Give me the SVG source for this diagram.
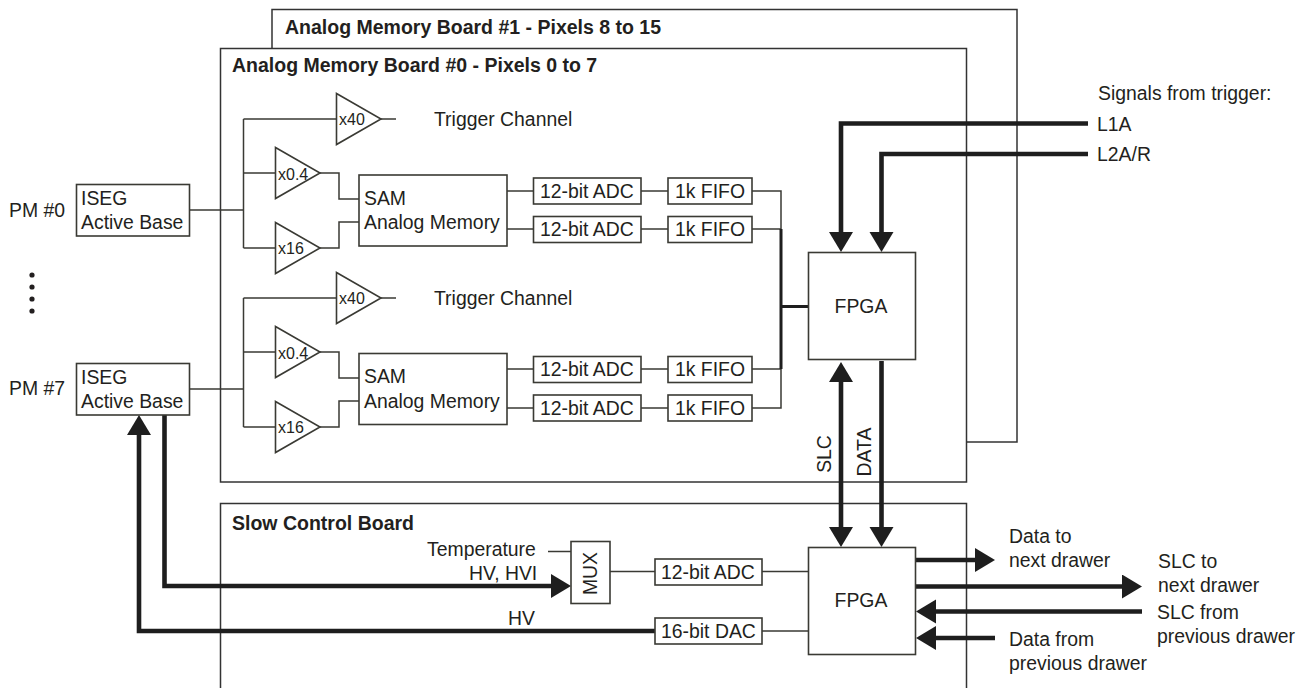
<svg xmlns="http://www.w3.org/2000/svg" width="1307" height="688" viewBox="0 0 1307 688">
<style>
text{font-family:"Liberation Sans",Arial,sans-serif;font-size:19.400px;fill:#231f20}
.b{font-weight:bold;font-size:19.500px}
.s{font-size:16px}
.box{fill:#fff;stroke:#3a3a34;stroke-width:1.600}
.frame{fill:none;stroke:#333;stroke-width:1.500}
.w{fill:none;stroke:#3a3a34;stroke-width:1.500}
.w3{fill:none;stroke:#1e1e1e;stroke-width:3}
.t{fill:none;stroke:#1e1e1e;stroke-width:4.600}
.a{marker-end:url(#h)}
.m{text-anchor:middle}
</style>
<defs>
<marker id="h" markerUnits="userSpaceOnUse" markerWidth="22" markerHeight="26" refX="0" refY="12" orient="auto-start-reverse">
<path d="M0 0L20 12L0 24Z" fill="#1e1e1e"/>
</marker>
<polygon id="amp" points="0,-25.500 44.500,0 0,25.500" class="box"/>
</defs>
<g id="board1"><path class="frame" d="M272 48V9.500H1017V442H967"/><text class="b" x="285" y="34">Analog Memory Board #1 - Pixels 8 to 15</text></g>
<g id="board0"><rect class="frame" x="220.500" y="48.500" width="746" height="433.500"/><text class="b" x="232" y="72">Analog Memory Board #0 - Pixels 0 to 7</text></g>
<g id="slowboard"><path class="frame" d="M220.500 688V503.500H966.500V688"/><text class="b" x="232" y="530">Slow Control Board</text></g>
<g id="connectors">
<path class="w" d="M189 210H243.500M243.500 119V248M243.500 119H337M396 119H381M243.500 173H276M243.500 248H276M320 173H339V199H359M320 248H339V222H359"/>
<path class="w" d="M189 389H243.500M243.500 298V427M243.500 298H337M396 298H381M243.500 352H276M243.500 427H276M320 352H339V378H359M320 427H339V401H359"/>
<path class="w" d="M507 191H533M641 191H668M752 191H781V229M507 229H533M641 229H668M752 229H781M507 369H533M641 369H668M752 369H781M507 408H533M641 408H668M752 408H781V369"/>
<path class="w3" d="M781 229V369M781 306.500H808"/>
<path class="w" d="M548 551.500H571M610 571.500H655M762 571.500H808M762 631H808"/>
<path class="t a" d="M1088 123.500H841V232"/>
<path class="t a" d="M1088 154H881.500V232"/>
<path class="t a" style="marker-start:url(#h)" d="M841 382V527"/>
<path class="t a" d="M881.500 361V527"/>
<path class="t a" d="M915 560H975"/>
<path class="t a" d="M915 586.500H1122"/>
<path class="t a" d="M1142 611.500H936"/>
<path class="t a" d="M995 638H936"/>
<path class="t a" d="M164.500 415V586H551"/>
<path class="t a" d="M655 631H139V435"/>
</g>
<g id="pm0"><text x="9" y="217">PM #0</text></g>
<g id="pm7"><text x="9" y="395">PM #7</text></g>
<g id="dots" fill="#231f20"><circle cx="32" cy="275" r="2.600"/><circle cx="32" cy="287" r="2.600"/><circle cx="32" cy="299" r="2.600"/><circle cx="32" cy="311" r="2.600"/></g>
<g id="iseg0"><rect class="box" x="76.500" y="184.500" width="113" height="51.500"/><text x="81" y="205">ISEG</text><text x="81" y="229">Active Base</text></g>
<g id="iseg7"><rect class="box" x="76.500" y="363.500" width="113" height="51.500"/><text x="81" y="384">ISEG</text><text x="81" y="408">Active Base</text></g>
<g id="amp-t0"><use href="#amp" x="336.500" y="119"/><text class="s" x="339" y="125">x40</text></g>
<g id="amp-a0"><use href="#amp" x="275.500" y="173"/><text class="s" x="278" y="180">x0.4</text></g>
<g id="amp-b0"><use href="#amp" x="275.500" y="248"/><text class="s" x="278" y="254">x16</text></g>
<g id="amp-t7"><use href="#amp" x="336.500" y="298"/><text class="s" x="339" y="304">x40</text></g>
<g id="amp-a7"><use href="#amp" x="275.500" y="352"/><text class="s" x="278" y="359">x0.4</text></g>
<g id="amp-b7"><use href="#amp" x="275.500" y="427"/><text class="s" x="278" y="433">x16</text></g>
<g id="trig0"><text x="434" y="126">Trigger Channel</text></g>
<g id="trig7"><text x="434" y="305">Trigger Channel</text></g>
<g id="sam0"><rect class="box" x="359" y="175" width="148" height="71"/><text x="364" y="205">SAM</text><text x="364" y="229">Analog Memory</text></g>
<g id="sam7"><rect class="box" x="359" y="353.500" width="148" height="71"/><text x="364" y="383">SAM</text><text x="364" y="408">Analog Memory</text></g>
<g id="adc00"><rect class="box" x="533.500" y="178" width="107.500" height="26"/><text x="540" y="198">12-bit ADC</text></g>
<g id="adc01"><rect class="box" x="533.500" y="216.500" width="107.500" height="26"/><text x="540" y="236">12-bit ADC</text></g>
<g id="adc70"><rect class="box" x="533.500" y="356.500" width="107.500" height="26"/><text x="540" y="376">12-bit ADC</text></g>
<g id="adc71"><rect class="box" x="533.500" y="395" width="107.500" height="26"/><text x="540" y="415">12-bit ADC</text></g>
<g id="fifo00"><rect class="box" x="668" y="178" width="84" height="26"/><text x="675" y="198">1k FIFO</text></g>
<g id="fifo01"><rect class="box" x="668" y="216.500" width="84" height="26"/><text x="675" y="236">1k FIFO</text></g>
<g id="fifo70"><rect class="box" x="668" y="356.500" width="84" height="26"/><text x="675" y="376">1k FIFO</text></g>
<g id="fifo71"><rect class="box" x="668" y="395" width="84" height="26"/><text x="675" y="415">1k FIFO</text></g>
<g id="fpga-top"><rect class="box" x="808.500" y="252.500" width="107" height="107"/><text class="m" x="861" y="313">FPGA</text></g>
<g id="fpga-bottom"><rect class="box" x="808.500" y="547.500" width="107" height="107"/><text class="m" x="861" y="607">FPGA</text></g>
<g id="mux"><rect class="box" x="571" y="541.500" width="39" height="62"/><text class="m" transform="translate(597 573.500) rotate(-90)">MUX</text></g>
<g id="adc-s"><rect class="box" x="655" y="559" width="107" height="26"/><text x="661" y="579">12-bit ADC</text></g>
<g id="dac-s"><rect class="box" x="655" y="618" width="107" height="26"/><text x="661" y="638">16-bit DAC</text></g>
<g id="labels">
<text x="1098" y="100">Signals from trigger:</text>
<text x="1097" y="131">L1A</text>
<text x="1097" y="161">L2A/R</text>
<text class="m" transform="translate(831 454) rotate(-90)">SLC</text>
<text class="m" transform="translate(871 452) rotate(-90)">DATA</text>
<text x="427" y="556">Temperature</text>
<text x="469" y="580">HV, HVI</text>
<text x="508" y="625">HV</text>
<text x="1009" y="543">Data to</text>
<text x="1009" y="567">next drawer</text>
<text x="1158" y="568">SLC to</text>
<text x="1158" y="592">next drawer</text>
<text x="1157" y="619">SLC from</text>
<text x="1157" y="643">previous drawer</text>
<text x="1009" y="646">Data from</text>
<text x="1009" y="670">previous drawer</text>
</g>
</svg>
